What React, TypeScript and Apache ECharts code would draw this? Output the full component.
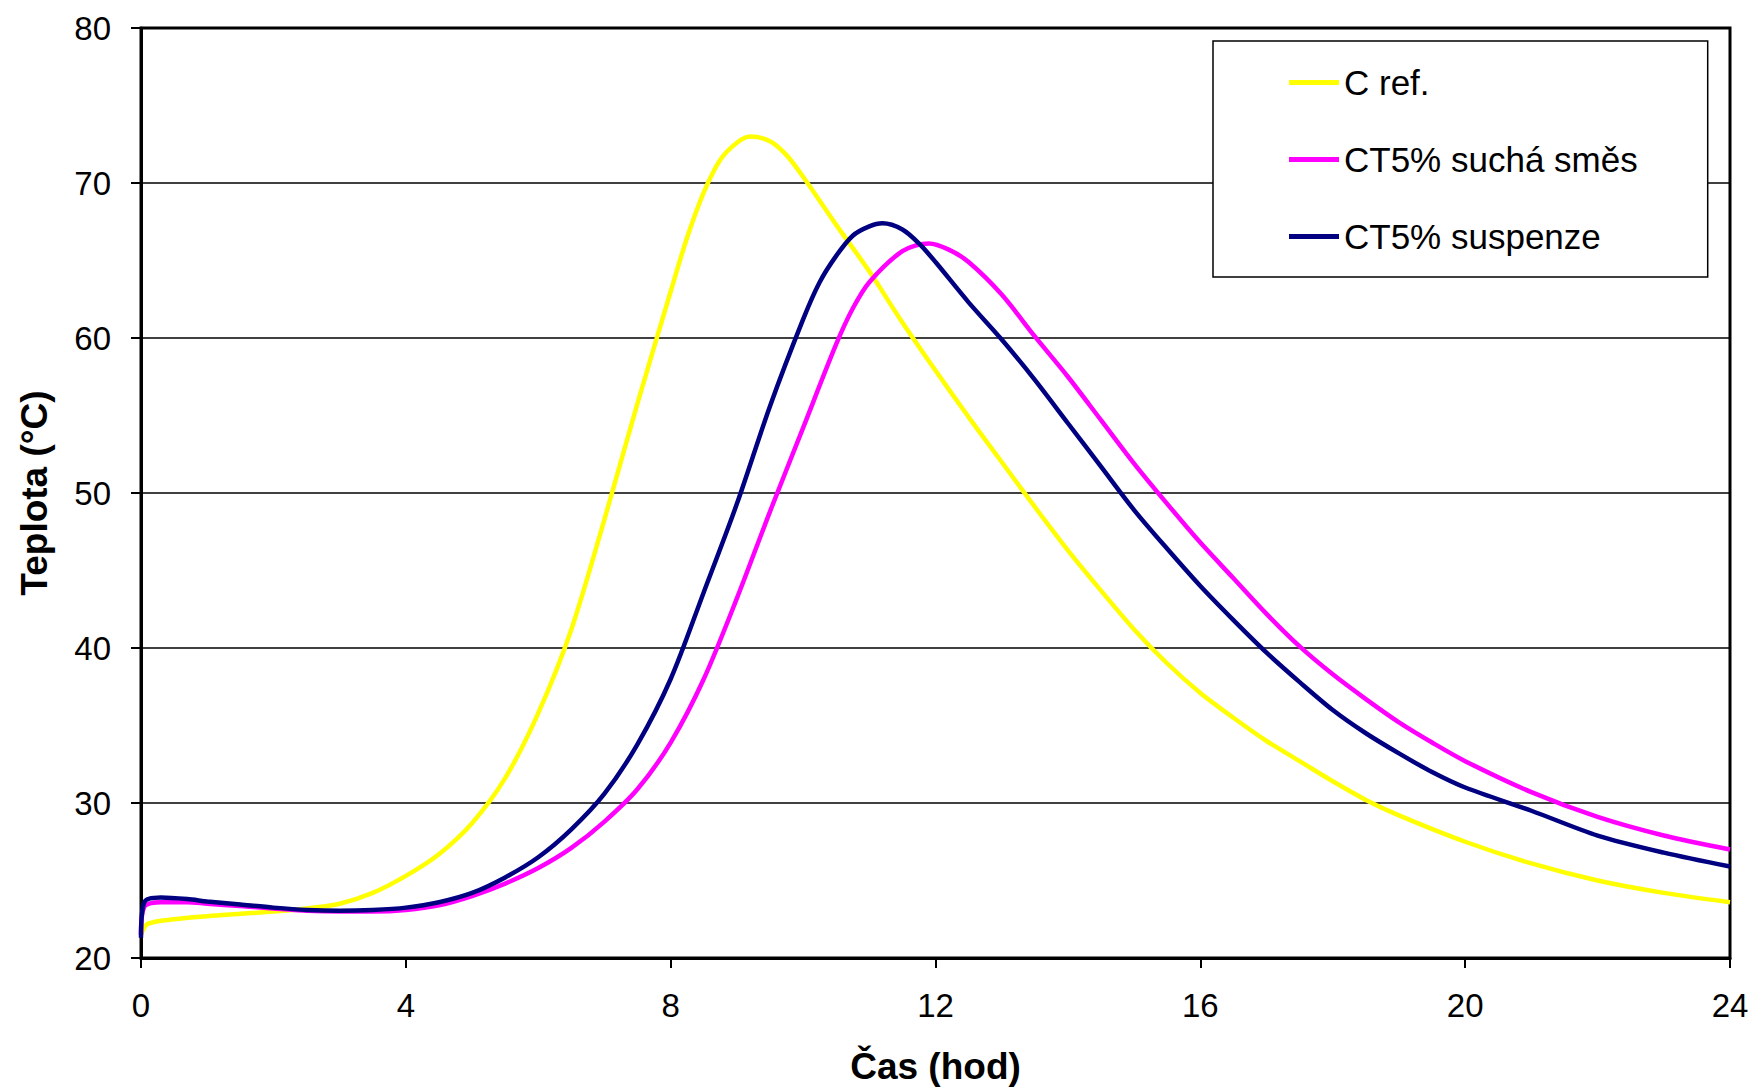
import React, { useEffect, useRef } from "react";
import * as echarts from "echarts";

const FONT = "'Liberation Sans', Arial, sans-serif";

const xTicks = [0, 4, 8, 12, 16, 20, 24];
const yTicks = [20, 30, 40, 50, 60, 70, 80];

const seriesNames = ["C ref.", "CT5% suchá směs", "CT5% suspenze"];
const seriesColors = ["#ffff00", "#ff00ff", "#000080"];

const cRefHours = [0, 0.1, 0.5, 1, 1.5, 2, 2.5, 3, 3.5, 4, 4.5, 5, 5.5, 6, 6.5, 7, 7.5, 8, 8.25, 8.5, 8.75, 9, 9.2, 9.5, 9.75, 10, 10.5, 11, 11.5, 12, 12.5, 13, 13.5, 14, 14.5, 15, 15.5, 16, 16.5, 17, 17.5, 18, 18.5, 19, 20, 21, 22, 23, 24];
const cRefTemps = [21.5, 22.2, 22.5, 22.7, 22.85, 23.0, 23.2, 23.5, 24.2, 25.3, 26.7, 28.7, 31.6, 35.8, 41.2, 48.3, 55.8, 63.0, 66.5, 69.4, 71.5, 72.6, 73.0, 72.7, 71.8, 70.4, 67.3, 64.3, 61.0, 57.9, 54.9, 52.0, 49.1, 46.3, 43.7, 41.2, 39.0, 37.1, 35.5, 34.0, 32.7, 31.4, 30.2, 29.2, 27.5, 26.1, 25.0, 24.2, 23.6];

const dryHours = [0, 0.05, 0.3, 0.7, 1, 1.5, 2, 2.5, 3, 3.5, 4, 4.5, 5, 5.5, 6, 6.5, 7, 7.5, 8, 8.5, 9, 9.5, 10, 10.5, 10.75, 11, 11.5, 11.9, 12.2, 12.5, 13, 13.5, 14, 14.5, 15, 15.5, 16, 16.5, 17, 17.5, 18, 18.5, 19, 19.5, 20, 21, 22, 23, 24];
const dryTemps = [21.5, 23.3, 23.6, 23.6, 23.5, 23.35, 23.2, 23.05, 23.0, 23.0, 23.1, 23.4, 24.0, 24.8, 25.8, 27.1, 28.8, 30.9, 33.9, 38.0, 43.2, 48.8, 54.2, 59.6, 61.9, 63.6, 65.6, 66.1, 65.7, 64.9, 62.8, 60.1, 57.5, 54.7, 51.9, 49.3, 46.8, 44.5, 42.2, 40.1, 38.3, 36.7, 35.2, 33.9, 32.7, 30.7, 29.1, 27.9, 27.0];

const suspHours = [0, 0.05, 0.3, 0.7, 1, 1.5, 2, 2.5, 3, 3.5, 4, 4.5, 5, 5.5, 6, 6.5, 7, 7.5, 8, 8.5, 9, 9.5, 10, 10.25, 10.5, 10.75, 11, 11.2, 11.5, 11.75, 12, 12.5, 13, 13.5, 14, 14.5, 15, 15.5, 16, 16.5, 17, 17.5, 18, 18.5, 19, 19.5, 20, 21, 22, 23, 24];
const suspTemps = [21.3, 23.6, 23.9, 23.8, 23.65, 23.45, 23.25, 23.1, 23.05, 23.1, 23.25, 23.6, 24.2, 25.2, 26.5, 28.3, 30.6, 33.8, 38.0, 43.6, 49.3, 55.6, 61.2, 63.6, 65.3, 66.6, 67.2, 67.4, 67.0, 66.1, 64.9, 62.3, 59.9, 57.3, 54.5, 51.7, 48.9, 46.4, 44.0, 41.8, 39.7, 37.8, 36.0, 34.5, 33.2, 32.0, 31.0, 29.5, 27.9, 26.8, 25.9];

const zip = (xs: number[], ys: number[]) => xs.map((x, i) => [x, ys[i]]);

export default function App() {
  const ref = useRef<HTMLDivElement>(null);

  useEffect(() => {
    if (!ref.current) return;
    const chart = echarts.init(ref.current, null, { renderer: "svg" });
    const datasets = [zip(cRefHours, cRefTemps), zip(dryHours, dryTemps), zip(suspHours, suspTemps)];

    chart.setOption({
      animation: false,
      backgroundColor: "#ffffff",
      textStyle: { fontFamily: FONT },
      grid: {
        left: 141,
        top: 28,
        right: 27,
        bottom: 130,
        show: true,
        borderColor: "#000",
        borderWidth: 3,
        backgroundColor: "transparent",
      },
      legend: {
        data: seriesNames.map((n) => ({ name: n, icon: "rect" })),
        orient: "vertical",
        left: 1213,
        top: 41,
        padding: [24, 70, 23, 76],
        itemGap: 42,
        itemWidth: 50,
        itemHeight: 5,
        backgroundColor: "#fff",
        borderColor: "#000",
        borderWidth: 1.5,
        borderRadius: 0,
        textStyle: { fontFamily: FONT, fontSize: 35, lineHeight: 34, color: "#000" },
      },
      xAxis: {
        type: "value",
        min: 0,
        max: 24,
        interval: 4,
        name: "Čas (hod)",
        nameLocation: "middle",
        nameGap: 90,
        nameTextStyle: { fontFamily: FONT, fontSize: 37, fontWeight: "bold", color: "#000" },
        axisLine: { show: true, onZero: false, lineStyle: { color: "#000", width: 3 } },
        axisTick: { show: true, inside: false, length: 10, lineStyle: { color: "#000", width: 2 } },
        axisLabel: {
          margin: 31,
          fontSize: 33,
          color: "#000",
          fontFamily: FONT,
          formatter: (v: number) => (xTicks.includes(v) ? String(v) : ""),
        },
        splitLine: { show: false },
      },
      yAxis: {
        type: "value",
        min: 20,
        max: 80,
        interval: 10,
        name: "Teplota (°C)",
        nameLocation: "middle",
        nameGap: 88,
        nameTextStyle: { fontFamily: FONT, fontSize: 37, fontWeight: "bold", color: "#000" },
        axisLine: { show: true, lineStyle: { color: "#000", width: 3 } },
        axisTick: { show: true, inside: false, length: 10, lineStyle: { color: "#000", width: 2 } },
        axisLabel: {
          margin: 30,
          fontSize: 33,
          color: "#000",
          fontFamily: FONT,
          formatter: (v: number) => (yTicks.includes(v) ? String(v) : ""),
        },
        splitLine: { show: true, lineStyle: { color: "#000", width: 1.5 } },
      },
      series: seriesNames.map((name, i) => ({
        name,
        type: "line",
        data: datasets[i],
        showSymbol: false,
        symbol: "none",
        smooth: 0.3,
        lineStyle: { color: seriesColors[i], width: 4.5 },
        itemStyle: { color: seriesColors[i] },
        z: 3,
      })),
    });

    return () => chart.dispose();
  }, []);

  return (
    <div
      ref={ref}
      style={{ position: "fixed", left: 0, top: 0, width: 1757, height: 1090, background: "#fff" }}
    />
  );
}
